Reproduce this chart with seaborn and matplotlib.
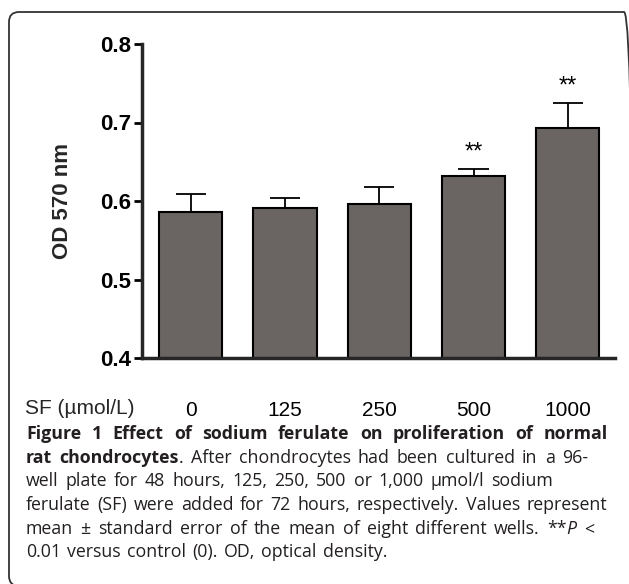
import matplotlib
matplotlib.use("Agg")
import matplotlib.pyplot as plt
import matplotlib.patches as patches
import matplotlib.transforms as mtransforms
import seaborn as sns

# data
doses = ["0", "125", "250", "500", "1000"]
od_mean = [0.586, 0.591, 0.596, 0.632, 0.693]
od_sem = [0.023, 0.013, 0.022, 0.009, 0.032]
signif = ["", "", "", "**", "**"]

sns.set_style("ticks")
plt.rcParams["font.family"] = ["Liberation Sans", "DejaVu Sans"]

W, H = 629, 584
fig = plt.figure(figsize=(W / 100, H / 100), dpi=100)

# rounded frame around the whole figure (pixel coords)
frame = patches.FancyBboxPatch((9, -2), 625, H - 12 + 2,
                               boxstyle="round,pad=0,rounding_size=10",
                               transform=mtransforms.IdentityTransform(),
                               facecolor="none", edgecolor="#333333", linewidth=1.3)
fig.patches.append(frame)

ax = fig.add_axes([141.7 / W, 1 - 358 / H, (615 - 141.7) / W, (358 - 44) / H])

sns.barplot(x=doses, y=od_mean, color="#6a6462", saturation=1, edgecolor="black",
            linewidth=1.5, width=0.67, errorbar=None, ax=ax, zorder=2)

# upper error bars only
xs = range(len(doses))
tops = [m + s for m, s in zip(od_mean, od_sem)]
ax.vlines(xs, od_mean, tops, color="black", linewidth=1.3, zorder=1)
ax.hlines(tops, [x - 0.16 for x in xs], [x + 0.16 for x in xs], color="black",
          linewidth=1.3, zorder=1)

for x, t, s in zip(xs, tops, signif):
    if s:
        ax.annotate(s, (x, t), xytext=(0, 4), textcoords="offset points",
                    ha="center", va="bottom", fontsize=17, color="black")

ax.set_ylim(0.4, 0.8)
ax.set_xlim(-0.52, 4.5)
ax.set_yticks([0.4, 0.5, 0.6, 0.7, 0.8])
ax.set_yticklabels(["0.4", "0.5", "0.6", "0.7", "0.8"], fontweight="bold", fontsize=16)
ax.tick_params(axis="y", direction="out", length=6, width=2, pad=1.5, colors="black")
ax.tick_params(axis="x", length=0, pad=31, labelsize=15, colors="black")
ax.set_xlabel("")
ax.set_ylabel("OD 570 nm", fontweight="bold", fontsize=16)
ax.yaxis.set_label_coords((73 - 141.7) / 473.3, 0.5)
sns.despine(ax=ax)
for sp in ["left", "bottom"]:
    ax.spines[sp].set_linewidth(2.5)
ax.patch.set_alpha(0)

fig.text(25 / W, 1 - 409 / H, "SF (\u00b5mol/L)", ha="left", va="center", fontsize=15)

# caption, spaced line by line to the widths seen in the reference
cap_font = ["Open Sans", "DejaVu Sans"]
cs = 12.8
cc = "#231f20"
x_left = 26
B, R, I = "bold", "normal", "italic"
cap_lines = [
    [("Figure 1 Effect of sodium ferulate on proliferation of normal", B)],
    [("rat chondrocytes", B), (". After chondrocytes had been cultured in a 96-", R)],
    [("well plate for 48 hours, 125, 250, 500 or 1,000 \u00b5mol/l sodium", R)],
    [("ferulate (SF) were added for 72 hours, respectively. Values represent", R)],
    [("mean \u00b1 standard error of the mean of eight different wells. **", R), ("P", I), (" <", R)],
    [("0.01 versus control (0). OD, optical density.", R)],
]
cap_base = [439, 463, 486, 510, 534, 557]
cap_right = [608, 588, 553, 607, 594, 387]


def tokens(parts):
    toks = []
    new = True
    for txt, st in parts:
        for i, w in enumerate(txt.split(" ")):
            if i > 0:
                new = True
            if w == "":
                continue
            if new or not toks:
                toks.append([(w, st)])
            else:
                toks[-1].append((w, st))
            new = False
    return toks


def make_text(w, st, y):
    kw = {"fontweight": "bold"} if st == B else ({"fontstyle": "italic"} if st == I else {})
    return fig.text(0, 1 - y / H, w, ha="left", va="baseline", fontsize=cs, color=cc,
                    family=cap_font, **kw)


placed = []
for parts, y, xr in zip(cap_lines, cap_base, cap_right):
    toks = tokens(parts)
    placed.append(([[make_text(w, st, y) for w, st in tok] for tok in toks], xr))

fig.canvas.draw()
rend = fig.canvas.get_renderer()
for toks, xr in placed:
    widths = [[t.get_window_extent(rend).width for t in tok] for tok in toks]
    total = sum(sum(w) for w in widths)
    gap = (xr - x_left - total) / max(len(toks) - 1, 1)
    x = x_left
    for tok, ws in zip(toks, widths):
        for t, w in zip(tok, ws):
            t.set_x(x / W)
            x += w
        x += gap

fig.savefig("out.png", dpi=100)
